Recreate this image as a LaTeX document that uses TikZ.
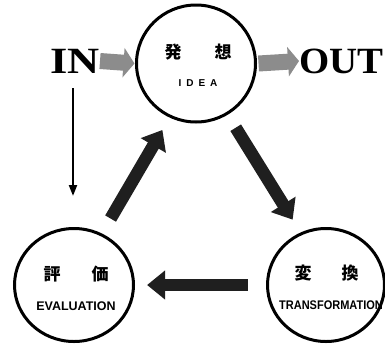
\documentclass[tikz,border=0pt]{standalone}
\usepackage{fontspec}
\setmainfont{Liberation Serif}
\newfontfamily\jpfont{Noto Sans CJK JP}
\newfontfamily\labfont{Liberation Sans}
\usetikzlibrary{shapes.geometric,arrows.meta,calc}
\begin{document}
\begin{tikzpicture}[x=1pt,y=-1pt,
  cyc/.style={draw, ellipse, line width=3pt, inner sep=0pt, outer sep=0pt},
  jp/.style={font=\jpfont\bfseries\fontsize{17}{17}\selectfont, inner sep=0pt},
  lab/.style={font=\labfont\bfseries\fontsize{12.5}{12.5}\selectfont, inner sep=0pt},
  big/.style={font=\bfseries\fontsize{37}{37}\selectfont, inner sep=0pt},
  fatarrow/.style={line width=12.5pt, draw=black!88, -{Triangle[width=28pt,length=18pt]}},
  grayarrow/.style={line width=16pt, draw=black!45, -{Triangle[width=29pt,length=11pt]}},
  thinarrow/.style={line width=2.2pt, -{Triangle[width=8pt,length=11pt]}}
]
\useasboundingbox (0,0) rectangle (385,346);
% circles
\node[cyc, minimum width=119pt, minimum height=117pt] (idea) at (196,63.5) {};
\node[cyc, minimum width=119pt, minimum height=113pt] (eval) at (74,285) {};
\node[cyc, minimum width=117pt, minimum height=113pt] (transf) at (326,285) {};
% texts in circles
\node[jp] (i1) at (173,52) {発};
\node[jp] (i2) at (223,52) {想};
\node[lab, font=\labfont\bfseries\fontsize{10}{10}\selectfont] (ilab) at (198,83) {I\hspace{5pt}D\hspace{5pt}E\hspace{5pt}A};
\node[jp] (e1) at (52,274) {評};
\node[jp] (e2) at (100,274) {価};
\node[lab] (elab) at (76,306) {EVALUATION};
\node[jp] (t1) at (303,273) {変};
\node[jp] (t2) at (350,273) {換};
\node[lab] (tlab) at (331,305) {\scalebox{0.88}[1]{TRANSFORMATION}};
% IN / OUT
\node[big, anchor=east] (in) at (100,61) {\scalebox{1.2}[1]{IN}};
\node[big, anchor=west] (out) at (299,61) {\scalebox{1.05}[1]{OUT}};
\draw[grayarrow] (in.east) -- ($(idea.west)+(-2,0)$);
\draw[grayarrow] ($(idea.east)+(3,0)$) -- (out.west);
% thin arrow
\coordinate (inb) at (73,88);
\coordinate (evt) at (73,196);
\draw[thinarrow] (inb) -- (evt);
% fat arrows
\draw[fatarrow] ($(eval)!0.30!(idea)$) -- ($(eval)!0.70!(idea)+(3,0)$);
\draw[fatarrow] ($(idea)!0.29!(transf)+(2,0)$) -- ($(idea)!0.705!(transf)+(5,0)$);
\draw[fatarrow] ($(transf)!0.31!(eval)$) -- ($(transf)!0.71!(eval)$);
\end{tikzpicture}
\end{document}
